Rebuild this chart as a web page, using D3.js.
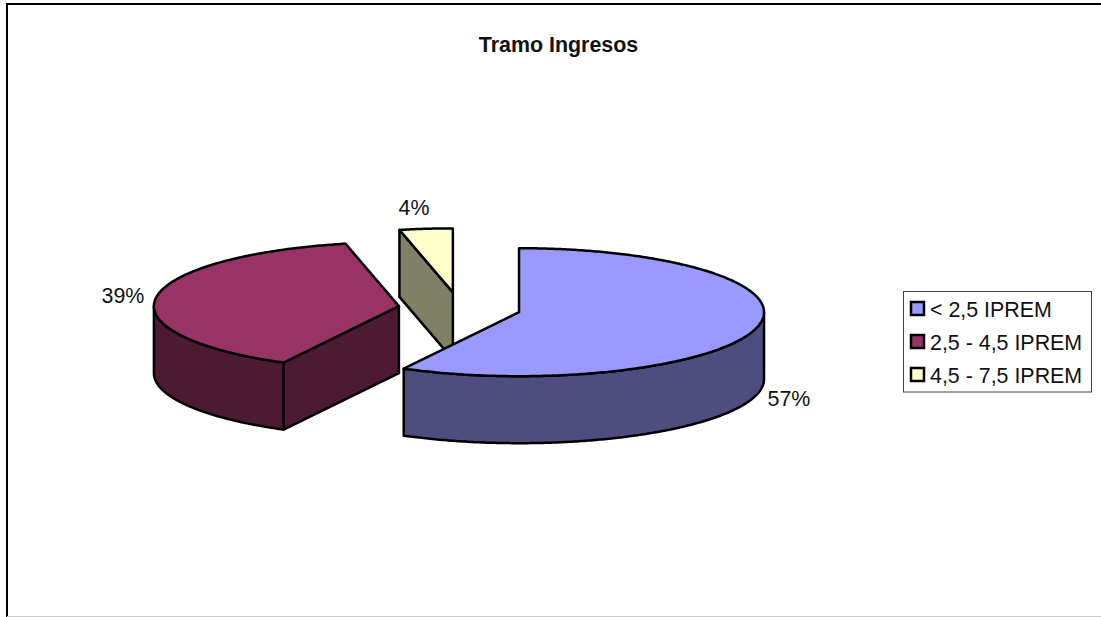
<!DOCTYPE html>
<html lang="en">
<head>
    <meta charset="UTF-8">
    <title>Tramo Ingresos</title>
    <script src="https://d3js.org/d3.v7.min.js"></script>
    <style>
        body { margin: 0; background: #fff; }
        svg { display: block; }
        text { font-family: "Liberation Sans", Arial, sans-serif; font-size: 21.4px; fill: #111; }
    </style>
</head>
<body>
    <div id="chart"></div>

    <script>
        // Data read from the picture. The slice shares are measured off the drawing,
        // the printed labels differ slightly because the original pie is in perspective
        var categories = ["< 2,5 IPREM", "2,5 - 4,5 IPREM", "4,5 - 7,5 IPREM"];
        var shares = [57.8, 38.7, 3.5];
        var shareLabels = ["57%", "39%", "4%"];
        var colors = ["#9999ff", "#993366", "#ffffcc"];
        var title = "Tramo Ingresos";

        var width = 1101, height = 617;

        // Pie geometry
        var cx = 459.6, cy = 308.3, rx = 245, ry = 64, depth = 67, explode = 0.25;

        var svg = d3.select("#chart")
          .append("svg")
            .attr("width", width)
            .attr("height", height);

        // Frame of the original sheet
        svg.append("path").attr("d", "M7,617V4H1101").attr("fill", "none").attr("stroke", "#000").attr("stroke-width", 2);
        svg.append("line").attr("x1", 7).attr("x2", 1101).attr("y1", 616.5).attr("y2", 616.5).attr("stroke", "#ccc");

        svg.append("text")
            .attr("x", 558.5)
            .attr("y", 51.5)
            .attr("text-anchor", "middle")
            .style("font-weight", "bold")
            .text(title);

        // Unit circle to ellipse on screen
        var x = d3.scaleLinear().domain([-1, 1]).range([-rx, rx]);
        var y = d3.scaleLinear().domain([-1, 1]).range([-ry, ry]);
        var px = function(a) { return x(Math.sin(a)); };
        var py = function(a) { return y(-Math.cos(a)); };

        var pie = d3.pie().sort(null);
        var slices = pie(shares);
        var line = d3.line();

        // Points along the rim between two angles
        function rim(a0, a1, dy) {
          var n = Math.max(2, Math.ceil(Math.abs(a1 - a0) / 0.01));
          return d3.range(n + 1).map(function(i) {
            var a = a0 + (a1 - a0) * i / n;
            return [px(a), py(a) + dy];
          });
        }

        // Side faces are the slice colour at half brightness
        function shade(c) {
          var r = d3.rgb(c);
          return d3.rgb(r.r / 2, r.g / 2, r.b / 2).formatHex();
        }

        // Back to front: yellow, red, blue
        d3.range(slices.length).reverse().forEach(function(i) {
          var s = slices[i];
          var mid = (s.startAngle + s.endAngle) / 2;
          var g = svg.append("g")
            .attr("transform", "translate(" + (cx + explode * px(mid)) + "," + (cy + explode * py(mid)) + ")");

          var faceStyle = function(sel, fill) {
            sel.attr("fill", fill)
              .attr("stroke", "#000")
              .attr("stroke-width", 2.5)
              .attr("stroke-linejoin", "round");
          };

          // Cut wall facing the viewer
          if (s.startAngle > Math.PI) {
            var e = [px(s.startAngle), py(s.startAngle)];
            g.append("path")
              .attr("d", line([[0, 0], e, [e[0], e[1] + depth], [0, depth]]) + "Z")
              .call(faceStyle, shade(colors[i]));
          }

          // Outer wall, only the front half of the ellipse shows
          var a0 = Math.max(s.startAngle, Math.PI / 2);
          var a1 = Math.min(s.endAngle, Math.PI * 1.5);
          if (a1 > a0) {
            g.append("path")
              .attr("d", line(rim(a0, a1, 0).concat(rim(a1, a0, depth))) + "Z")
              .call(faceStyle, shade(colors[i]));
          }

          // Top face
          g.append("path")
            .attr("d", line([[0, 0]].concat(rim(s.startAngle, s.endAngle, 0))) + "Z")
            .call(faceStyle, colors[i]);
        });

        // Percent labels
        var labelPos = [[789, 406], [123, 303], [414, 215]];
        svg.selectAll(".pct")
          .data(shareLabels)
          .enter()
          .append("text")
            .attr("class", "pct")
            .attr("x", function(d, i) { return labelPos[i][0]; })
            .attr("y", function(d, i) { return labelPos[i][1]; })
            .attr("text-anchor", "middle")
            .text(function(d) { return d; });

        // Legend
        var legend = svg.append("g");
        legend.append("rect")
            .attr("x", 903.5).attr("y", 291.5)
            .attr("width", 188).attr("height", 100.5)
            .attr("fill", "#fff")
            .attr("stroke", "#444");

        var rowY = d3.scalePoint().domain(categories).range([309, 375]);

        var rows = legend.selectAll(".row")
          .data(categories)
          .enter()
          .append("g")
            .attr("class", "row")
            .attr("transform", function(d) { return "translate(0," + rowY(d) + ")"; });

        rows.append("rect")
            .attr("x", 911).attr("y", -7)
            .attr("width", 13).attr("height", 13)
            .attr("fill", function(d, i) { return colors[i]; })
            .attr("stroke", "#000")
            .attr("stroke-width", 2.5);

        rows.append("text")
            .attr("x", 930)
            .attr("y", 7.5)
            .text(function(d) { return d; });
    </script>
</body>
</html>
